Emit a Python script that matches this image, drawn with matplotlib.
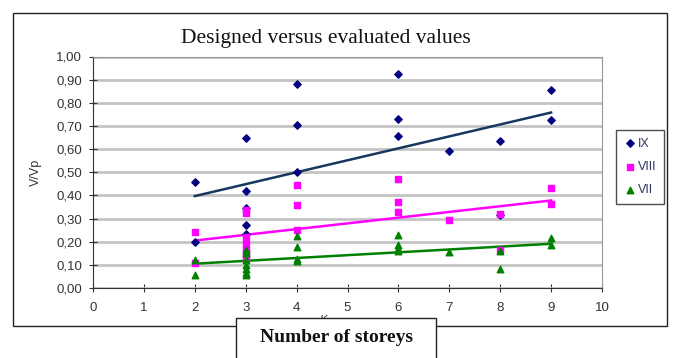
import numpy as np
import matplotlib.pyplot as plt
from matplotlib.patches import Rectangle

# storeys -> V/Vp values
ix_x  = [2, 2, 3, 3, 3, 3, 3, 4, 4, 4, 6, 6, 6, 7, 8, 8, 9, 9]
ix_y  = [0.46, 0.20, 0.65, 0.42, 0.345, 0.27, 0.235, 0.88, 0.705, 0.50,
         0.925, 0.73, 0.655, 0.59, 0.635, 0.315, 0.855, 0.725]
viii_x = [2, 2, 3, 3, 3, 3, 3, 3, 3, 4, 4, 4, 6, 6, 6, 7, 8, 8, 9, 9]
viii_y = [0.24, 0.11, 0.335, 0.325, 0.22, 0.19, 0.17, 0.15, 0.13, 0.445, 0.36, 0.25,
          0.47, 0.37, 0.33, 0.295, 0.32, 0.165, 0.43, 0.365]
vii_x = [2, 2, 3, 3, 3, 3, 3, 3, 3, 4, 4, 4, 4, 6, 6, 6, 6, 7, 8, 8, 9, 9]
vii_y = [0.12, 0.055, 0.165, 0.15, 0.12, 0.10, 0.08, 0.065, 0.055, 0.225, 0.175, 0.125, 0.115,
         0.23, 0.185, 0.17, 0.16, 0.155, 0.16, 0.08, 0.215, 0.185]

# linear trend lines (end points)
trend_x    = [2, 9]
trend_ix   = [0.397, 0.758]
trend_viii = [0.205, 0.378]
trend_vii  = [0.105, 0.191]

W, H = 673, 358
fig = plt.figure(figsize=(W / 100, H / 100), dpi=100)
fig.patch.set_facecolor('white')

# outer chart frame
fig.patches.append(Rectangle((13 / W, 1 - 326 / H), 654 / W, 313 / H, transform=fig.transFigure,
                             fill=False, edgecolor='#222222', linewidth=1.0))

ax = fig.add_axes([93 / W, 1 - 288 / H, 509 / W, 231.5 / H])
ax.set_xlim(0, 10)
ax.set_ylim(0, 1.0)

ax.grid(True, axis='y', color='#c4c4c4', linewidth=2.0, zorder=0)
ax.set_axisbelow(True)

tick_font = dict(family='Liberation Sans', size=9.5, color='#333333')
ax.set_xticks(range(0, 11))
ax.set_xticklabels([str(i) for i in range(0, 11)], **tick_font)
ax.set_yticks(np.arange(0, 1.01, 0.1))
ax.set_yticklabels([f"{v:.2f}".replace('.', ',') for v in np.arange(0, 1.01, 0.1)], **tick_font)
ax.tick_params(direction='inout', length=6, width=0.8, color='#333333')
ax.tick_params(axis='x', pad=7)
ax.tick_params(axis='y', pad=5)

for s in ['top', 'right']:
    ax.spines[s].set_color('#999999')
for s in ['left', 'bottom']:
    ax.spines[s].set_color('#333333')

ax.plot(trend_x, trend_ix, color='#17375e', linewidth=1.8, zorder=2)
ax.plot(trend_x, trend_viii, color='#ff00ff', linewidth=1.8, zorder=2)
ax.plot(trend_x, trend_vii, color='#008000', linewidth=1.8, zorder=2)

ax.scatter(ix_x, ix_y, marker='D', s=14, color='#000080', label='IX', zorder=3)
ax.scatter(viii_x, viii_y, marker='s', s=18, color='#ff00ff', label='VIII', zorder=3)
ax.scatter(vii_x, vii_y, marker='^', s=22, color='#008000', label='VII', zorder=3)

ax.set_ylabel('V/Vp', family='Liberation Sans', size=9, color='#333333', labelpad=10)

fig.text(326 / W, 1 - 38 / H, 'Designed versus evaluated values', family='Liberation Serif',
         size=15.5, ha='center', va='center', color='#111111')

leg = fig.legend(loc='center', bbox_to_anchor=(640 / W, 1 - 167 / H), frameon=True,
                 fancybox=False, edgecolor='#222222', prop=dict(family='Liberation Sans', size=9),
                 handletextpad=0.2, handlelength=1.0, borderpad=0.6, labelspacing=0.9,
                 scatterpoints=1)
for t in leg.get_texts():
    t.set_color('#333366')

# hidden axis label peeking out under the box
fig.text(323 / W, 1 - 320 / H, 'K', family='Liberation Sans', size=8, style='italic',
         color='#333333', ha='center', va='center', zorder=1)

fig.patches.append(Rectangle((236 / W, 1 - 362 / H), 200 / W, 44 / H, transform=fig.transFigure,
                             facecolor='white', edgecolor='#222222', linewidth=1.0, zorder=5))
fig.text(336 / W, 1 - 338 / H, 'Number of storeys', family='Liberation Serif', weight='bold',
         size=14, ha='center', va='center', color='#111111', zorder=6)

fig.savefig('out.png', dpi=100)
